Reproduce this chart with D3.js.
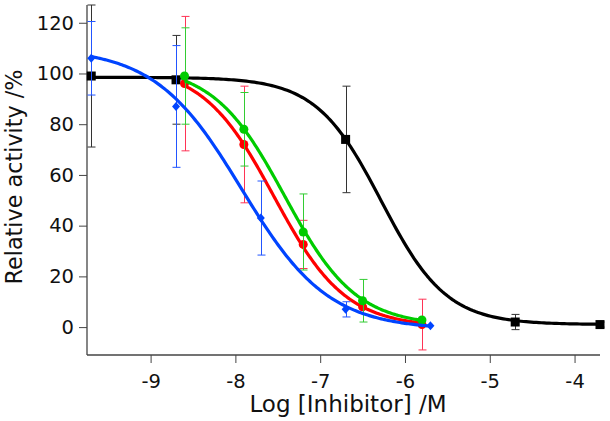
<!DOCTYPE html>
<html>
<head>
<meta charset="utf-8">
<script src="https://cdn.jsdelivr.net/npm/d3@7"></script>
<style>
  html, body { margin: 0; padding: 0; background: #fff; }
  svg { display: block; }
  text { font-family: "DejaVu Sans", sans-serif; fill: #111; }
</style>
</head>
<body>
<svg id="chart" width="610" height="421"></svg>
<script>
// ---------- data ----------
const seriesNames = ["black", "red", "green", "blue"];
const seriesColors = ["#000000", "#ff0000", "#00cc00", "#0044ff"];
const barColors = ["#333333", "#ff3355", "#33cc33", "#2255ff"];

const blackX = [-9.7, -8.7, -6.7, -4.7, -3.7];
const blackY = [99, 97.5, 74, 2, 1];
const blackErr = [28, 17.5, 21, 3, 1];

const redX = [-8.6, -7.9, -7.2, -6.5, -5.8];
const redY = [96, 72, 32.6, 8, 1];
const redErr = [26.5, 23, 9.5, 0, 10];

const greenX = [-8.6, -7.9, -7.2, -6.5, -5.8];
const greenY = [99, 78, 37.5, 10.4, 2.8];
const greenErr = [19, 14.5, 15, 8.4, 0];

const blueX = [-9.7, -8.7, -7.7, -6.7, -5.7];
const blueY = [106, 87, 43, 7, 0.5];
const blueErr = [14.5, 24, 14.6, 3, 0];

// fitted four-parameter logistic curves: [bottom, top, logIC50, hill]
const blackFit = [1, 98.5, -6.28, 1.13];
const redFit = [0, 103, -7.545, 1.03];
const greenFit = [0.5, 103, -7.42, 1.03];
const blueFit = [-1, 110, -7.927, 0.85];

const xTicks = [-9, -8, -7, -6, -5, -4];
const yTicks = [0, 20, 40, 60, 80, 100, 120];
const xTitle = "Log [Inhibitor] /M";
const yTitle = "Relative activity /%";

// ---------- build ----------
const series = [
  {x: blackX, y: blackY, e: blackErr, fit: blackFit, marker: "square"},
  {x: redX, y: redY, e: redErr, fit: redFit, marker: "circle"},
  {x: greenX, y: greenY, e: greenErr, fit: greenFit, marker: "circle"},
  {x: blueX, y: blueY, e: blueErr, fit: blueFit, marker: "diamond"}
].map((s, i) => ({...s, name: seriesNames[i], color: seriesColors[i], barColor: barColors[i]}));

const svg = d3.select("#chart");
const mLeft = 87, mRight = 600, mTop = 5, mBottom = 355;

const x = d3.scaleLinear().domain([-9.75, -3.7]).range([mLeft, mRight]);
const y = d3.scaleLinear().domain([-11, 127]).range([mBottom, mTop]);

// axes
const xAxis = d3.axisBottom(x).tickValues(xTicks).tickSize(8).tickPadding(11).tickFormat(d => String(d));
const yAxis = d3.axisLeft(y).tickValues(yTicks).tickSize(8).tickPadding(5).tickFormat(d => String(d));

const gx = svg.append("g").attr("transform", `translate(0,${mBottom})`).call(xAxis);
const gy = svg.append("g").attr("transform", `translate(${mLeft},0)`).call(yAxis);
[gx, gy].forEach(g => {
  g.select(".domain").attr("stroke", "#444").attr("stroke-width", 1.3);
  g.selectAll(".tick line").attr("stroke", "#444").attr("stroke-width", 1);
  g.selectAll(".tick text").attr("font-size", 19.5).attr("font-family", "'Open Sans', sans-serif").attr("fill", "#111");
});
gx.select(".domain").attr("d", `M${mLeft},0H${mRight}`);
gy.select(".domain").attr("d", `M0,${mBottom}V${mTop}`);

// titles
svg.append("text").attr("x", 348).attr("y", 412).attr("text-anchor", "middle")
  .attr("font-size", 23).text(xTitle);
svg.append("text").attr("transform", `translate(22,177) rotate(-90)`).attr("text-anchor", "middle")
  .attr("font-size", 22.3).text(yTitle);

const logistic = (f, v) => f[0] + (f[1] - f[0]) / (1 + Math.pow(10, (v - f[2]) * f[3]));
const line = d3.line().x(d => x(d[0])).y(d => y(d[1])).curve(d3.curveLinear);

series.forEach(s => {
  const g = svg.append("g");
  // error bars
  s.x.forEach((xv, i) => {
    const e = s.e[i];
    if (!e) return;
    const cx = Math.round(x(xv)) + 0.5;
    const y1 = y(s.y[i] + e), y2 = y(s.y[i] - e);
    g.append("line").attr("x1", cx).attr("x2", cx).attr("y1", y1).attr("y2", y2)
      .attr("stroke", s.barColor).attr("stroke-width", 1);
    [y1, y2].forEach(yy => g.append("line").attr("x1", cx - 4).attr("x2", cx + 4)
      .attr("y1", yy).attr("y2", yy).attr("stroke", s.barColor).attr("stroke-width", 1));
  });
  // fitted curve
  const x0 = d3.min(s.x), x1 = d3.max(s.x);
  const n = 200;
  const pts = d3.range(n + 1).map(k => {
    const xv = x0 + (x1 - x0) * k / n;
    return [xv, logistic(s.fit, xv)];
  });
  g.append("path").attr("d", line(pts)).attr("fill", "none")
    .attr("stroke", s.color).attr("stroke-width", 3.2).attr("stroke-linejoin", "round");
  // markers
  s.x.forEach((xv, i) => {
    const cx = x(xv), cy = y(s.y[i]);
    if (s.marker === "square") {
      g.append("rect").attr("x", cx - 4.5).attr("y", cy - 4.5).attr("width", 9).attr("height", 9).attr("fill", s.color);
    } else if (s.marker === "circle") {
      g.append("circle").attr("cx", cx).attr("cy", cy).attr("r", 4.5).attr("fill", s.color);
    } else {
      g.append("path").attr("d", `M${cx},${cy - 4.5}L${cx + 4},${cy}L${cx},${cy + 4.5}L${cx - 4},${cy}Z`).attr("fill", s.color);
    }
  });
});
</script>
</body>
</html>
